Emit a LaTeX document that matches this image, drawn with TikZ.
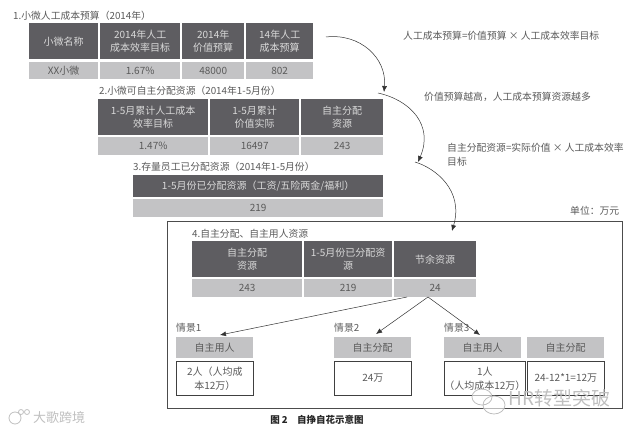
\documentclass[tikz,border=0pt]{standalone}
\usepackage{fontspec}
\setmainfont{Noto Sans CJK SC}
\usetikzlibrary{arrows.meta}
\definecolor{headgray}{HTML}{5E5D61}
\definecolor{valgray}{HTML}{C3C3C5}
\definecolor{inkgray}{HTML}{5A5A5A}
\tikzset{
  headcell/.style={fill=headgray,text=white!85!black,align=center,inner sep=0pt,anchor=north west,font=\fontsize{10}{13}\selectfont},
  valcell/.style={fill=valgray,text=inkgray,align=center,inner sep=0pt,anchor=north west,font=\fontsize{10}{13}\selectfont},
  whitecell/.style={draw=black!75,line width=0.7pt,fill=white,text=inkgray,align=center,inner sep=0pt,anchor=north west,font=\fontsize{10}{14}\selectfont},
  notelabel/.style={text=inkgray,anchor=west,inner sep=0pt,font=\fontsize{9.8}{14}\selectfont},
  flowarrow/.style={-{Latex[length=6pt,width=5pt]},black!80,line width=0.5pt},
  markfont/.style={text=black!25,anchor=west,inner sep=0pt},
  markline/.style={draw=black!25,line width=0.8pt}
}
\begin{document}
\begin{tikzpicture}[x=1pt,y=-1pt]
\useasboundingbox (0,0) rectangle (640,431);

% frame of part 4
\node [draw=black!70,line width=0.8pt,anchor=north west,inner sep=0pt,minimum width=455pt,minimum height=187pt] (frame) at (167,221) {};

% part 1
\node [notelabel] (titleone) at (13,16) {1.小微人工成本预算（2014年）};
\node [headcell,minimum width=69pt,minimum height=36pt] (oneA) at (29,23) {小微名称};
\node [headcell,minimum width=80pt,minimum height=36pt] (oneB) at (100,23) {2014年人工\\成本效率目标};
\node [headcell,minimum width=62pt,minimum height=36pt] (oneC) at (182,23) {2014年\\价值预算};
\node [headcell,minimum width=67pt,minimum height=36pt] (oneD) at (246,23) {14年人工\\成本预算};
\node [valcell,minimum width=69pt,minimum height=17pt] (valoneA) at (29,62) {XX小微};
\node [valcell,minimum width=80pt,minimum height=17pt] (valoneB) at (100,62) {1.67\%};
\node [valcell,minimum width=62pt,minimum height=17pt] (valoneC) at (182,62) {48000};
\node [valcell,minimum width=67pt,minimum height=17pt] (valoneD) at (246,62) {802};

% part 2
\node [notelabel] (titletwo) at (99,91) {2.小微可自主分配资源（2014年1-5月份）};
\node [headcell,minimum width=110pt,minimum height=36pt] (twoA) at (98,99) {1-5月累计人工成本\\效率目标};
\node [headcell,minimum width=89pt,minimum height=36pt] (twoB) at (210,99) {1-5月累计\\价值实际};
\node [headcell,minimum width=82pt,minimum height=36pt] (twoC) at (301,99) {自主分配\\资源};
\node [valcell,minimum width=110pt,minimum height=18pt] (valtwoA) at (98,137) {1.47\%};
\node [valcell,minimum width=89pt,minimum height=18pt] (valtwoB) at (210,137) {16497};
\node [valcell,minimum width=82pt,minimum height=18pt] (valtwoC) at (301,137) {243};

% part 3
\node [notelabel] (titlethree) at (133,167) {3.存量员工已分配资源（2014年1-5月份）};
\node [headcell,minimum width=250pt,minimum height=22pt] (threeA) at (133,175) {1-5月份已分配资源（工资/五险两金/福利）};
\node [valcell,minimum width=250pt,minimum height=18pt] (valthreeA) at (133,199) {219};

% part 4
\node [notelabel] (titlefour) at (192,234) {4.自主分配、自主用人资源};
\node [headcell,minimum width=110pt,minimum height=36pt] (fourA) at (192,241) {自主分配\\资源};
\node [headcell,minimum width=88pt,minimum height=36pt] (fourB) at (304,241) {1-5月份已分配资\\源};
\node [headcell,minimum width=82pt,minimum height=36pt] (fourC) at (394,241) {节余资源};
\node [valcell,minimum width=110pt,minimum height=18pt] (valfourA) at (192,279) {243};
\node [valcell,minimum width=88pt,minimum height=18pt] (valfourB) at (304,279) {219};
\node [valcell,minimum width=82pt,minimum height=18pt] (valfourC) at (394,279) {24};

% scenes
\node [notelabel] (sceneone) at (176,328) {情景1};
\node [notelabel] (scenetwo) at (334,328) {情景2};
\node [notelabel] (scenethree) at (444,328) {情景3};

\node [valcell,minimum width=77pt,minimum height=21pt] (useone) at (176,337) {自主用人};
\node [valcell,minimum width=77pt,minimum height=21pt] (giveone) at (334,337) {自主分配};
\node [valcell,minimum width=77pt,minimum height=21pt] (usetwo) at (444,337) {自主用人};
\node [valcell,minimum width=77pt,minimum height=21pt] (givetwo) at (527,337) {自主分配};

\node [whitecell,minimum width=77pt,minimum height=34pt] (boxone) at (176,361) {2人（人均成\\本12万）};
\node [whitecell,minimum width=77pt,minimum height=34pt] (boxtwo) at (334,361) {24万};
\node [whitecell,minimum width=77pt,minimum height=34pt] (boxthree) at (444,361) {1人\\（人均成本12万）};
\node [whitecell,minimum width=77pt,minimum height=34pt] (boxfour) at (527,361) {24-12*1=12万};

% notes at the right
\node [notelabel] (noteone) at (403,36) {人工成本预算=价值预算 × 人工成本效率目标};
\node [notelabel] (notetwo) at (424,97) {价值预算越高，人工成本预算资源越多};
\node [notelabel,align=left] (notethree) at (447,155) {自主分配资源=实际价值 × 人工成本效率\\目标};
\node [notelabel] (unitnote) at (570,211) {单位：万元};

% caption and marks
\node [inner sep=0pt,text=black!85,font=\fontsize{9.5}{11}\selectfont\bfseries] (caption) at (317,420) {图 2\quad 自挣自花示意图};
\node [markfont,font=\fontsize{13}{15}\selectfont] (markleft) at (33,418) {大歌跨境};
\node [markfont,font=\fontsize{19}{21}\selectfont] (markright) at (508,398) {HR转型突破};
\draw [markline] (15,418) circle [radius=6pt] (21,412) circle [radius=2.5pt] (27,412) circle [radius=2.5pt];
\draw [markline,fill=white,fill opacity=0.6] (482,397) ellipse [x radius=10pt,y radius=8pt] (494,405) ellipse [x radius=11pt,y radius=9pt];

% arrows
\coordinate (startone) at (326,37);
\coordinate (endone) at (384,92);
\coordinate (starttwo) at (378,93);
\coordinate (endtwo) at (418,162);
\coordinate (startthree) at (415,162);
\coordinate (endthree) at (452,231);
\draw [flowarrow] (startone) .. controls (360,33) and (387,58) .. (endone);
\draw [flowarrow] (starttwo) .. controls (410,100) and (434,125) .. (endtwo);
\draw [flowarrow] (startthree) .. controls (435,168) and (464,190) .. (endthree);

\coordinate (fromleft) at (407,297);
\coordinate (frommid) at (428,297);
\coordinate (toone) at (220,335);
\coordinate (totwo) at (376,334);
\coordinate (tothree) at (480,335);
\draw [flowarrow] (fromleft) -- (toone);
\draw [flowarrow] (frommid) -- (totwo);
\draw [flowarrow] (frommid) -- (tothree);
\end{tikzpicture}
\end{document}
